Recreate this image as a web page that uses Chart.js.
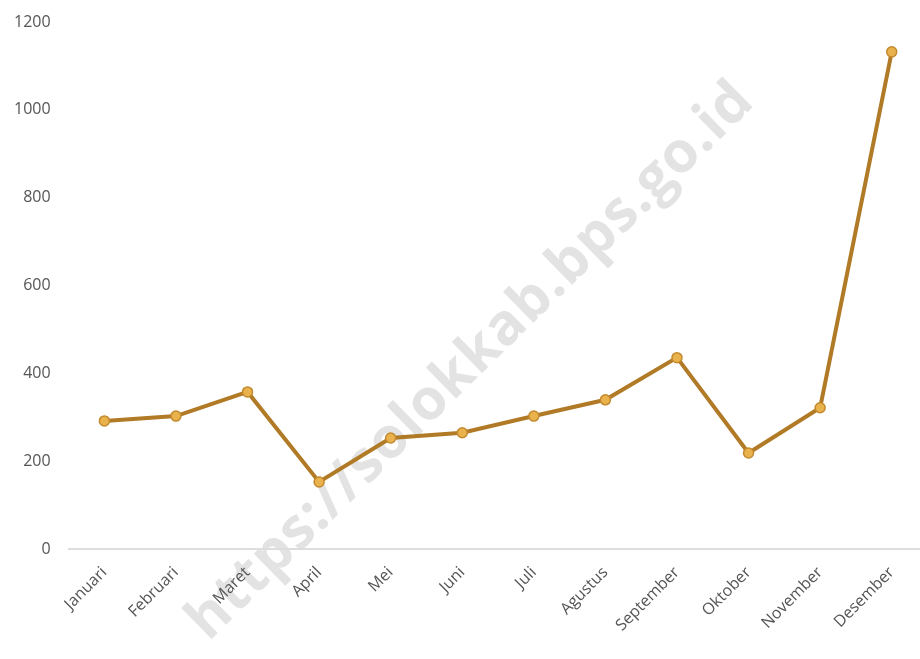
<!DOCTYPE html>
<html>
<head>
<meta charset="utf-8">
<script src="https://cdn.jsdelivr.net/npm/chart.js@4"></script>
<style>
    html, body { margin: 0; padding: 0; background: #fff; overflow: hidden; }
    #wrap { position: relative; width: 934px; height: 659px; }
    #mark {
        position: absolute; left: 467px; top: 357px;
        transform: translate(-50%, -50%) rotate(-44.5deg);
        font-family: "Open Sans", sans-serif; font-weight: 700; font-size: 57px;
        color: #e3e3e3; white-space: nowrap; letter-spacing: 1px;
    }
    canvas { position: absolute; left: 0; top: 0; }
</style>
</head>
<body>
<div id="wrap">
    <div id="mark">https://solokkab.bps.go.id</div>
    <canvas id="chartCanvas" width="934" height="659"></canvas>
</div>
<script>
// bulan
let months = ['Januari', 'Februari', 'Maret', 'April', 'Mei', 'Juni', 'Juli', 'Agustus', 'September', 'Oktober', 'November', 'Desember'];
// nilai per bulan
let values = [292, 303, 358, 153, 253, 265, 303, 340, 436, 219, 322, 1132];
let yTicks = [0, 200, 400, 600, 800, 1000, 1200];

window.onload = function() {
    let ctx = document.getElementById('chartCanvas').getContext('2d');

    let config = {
        type: 'line',
        data: {
            labels: months,
            datasets: [{
                label: 'Nilai',
                data: values,
                borderColor: '#b17a26',
                borderWidth: 4,
                pointRadius: 5,
                pointBorderWidth: 1.5,
                pointBackgroundColor: '#e9b24c',
                pointBorderColor: '#c38a2e',
                tension: 0
            }]
        },
        options: {
            responsive: false,
            animation: false,
            layout: { padding: { top: 22, right: 0, bottom: 18, left: 4 } },
            plugins: { legend: { display: false }, tooltip: { enabled: false } },
            scales: {
                x: {
                    offset: true,
                    grid: { display: false },
                    border: { display: true, color: '#dddddd', width: 2 },
                    ticks: {
                        color: '#555',
                        font: { family: 'Open Sans', size: 16 },
                        maxRotation: 45, minRotation: 45,
                        padding: 6
                    }
                },
                y: {
                    min: 0, max: 1200,
                    afterBuildTicks: function(axis) {
                        axis.ticks = yTicks.map(v => ({ value: v }));
                    },
                    grid: { display: false },
                    border: { display: false },
                    ticks: {
                        color: '#555',
                        font: { family: 'Open Sans', size: 16 },
                        padding: 10,
                        callback: function(v) { return String(v); }
                    }
                }
            }
        }
    };

    new Chart(ctx, config);
};
</script>
</body>
</html>
